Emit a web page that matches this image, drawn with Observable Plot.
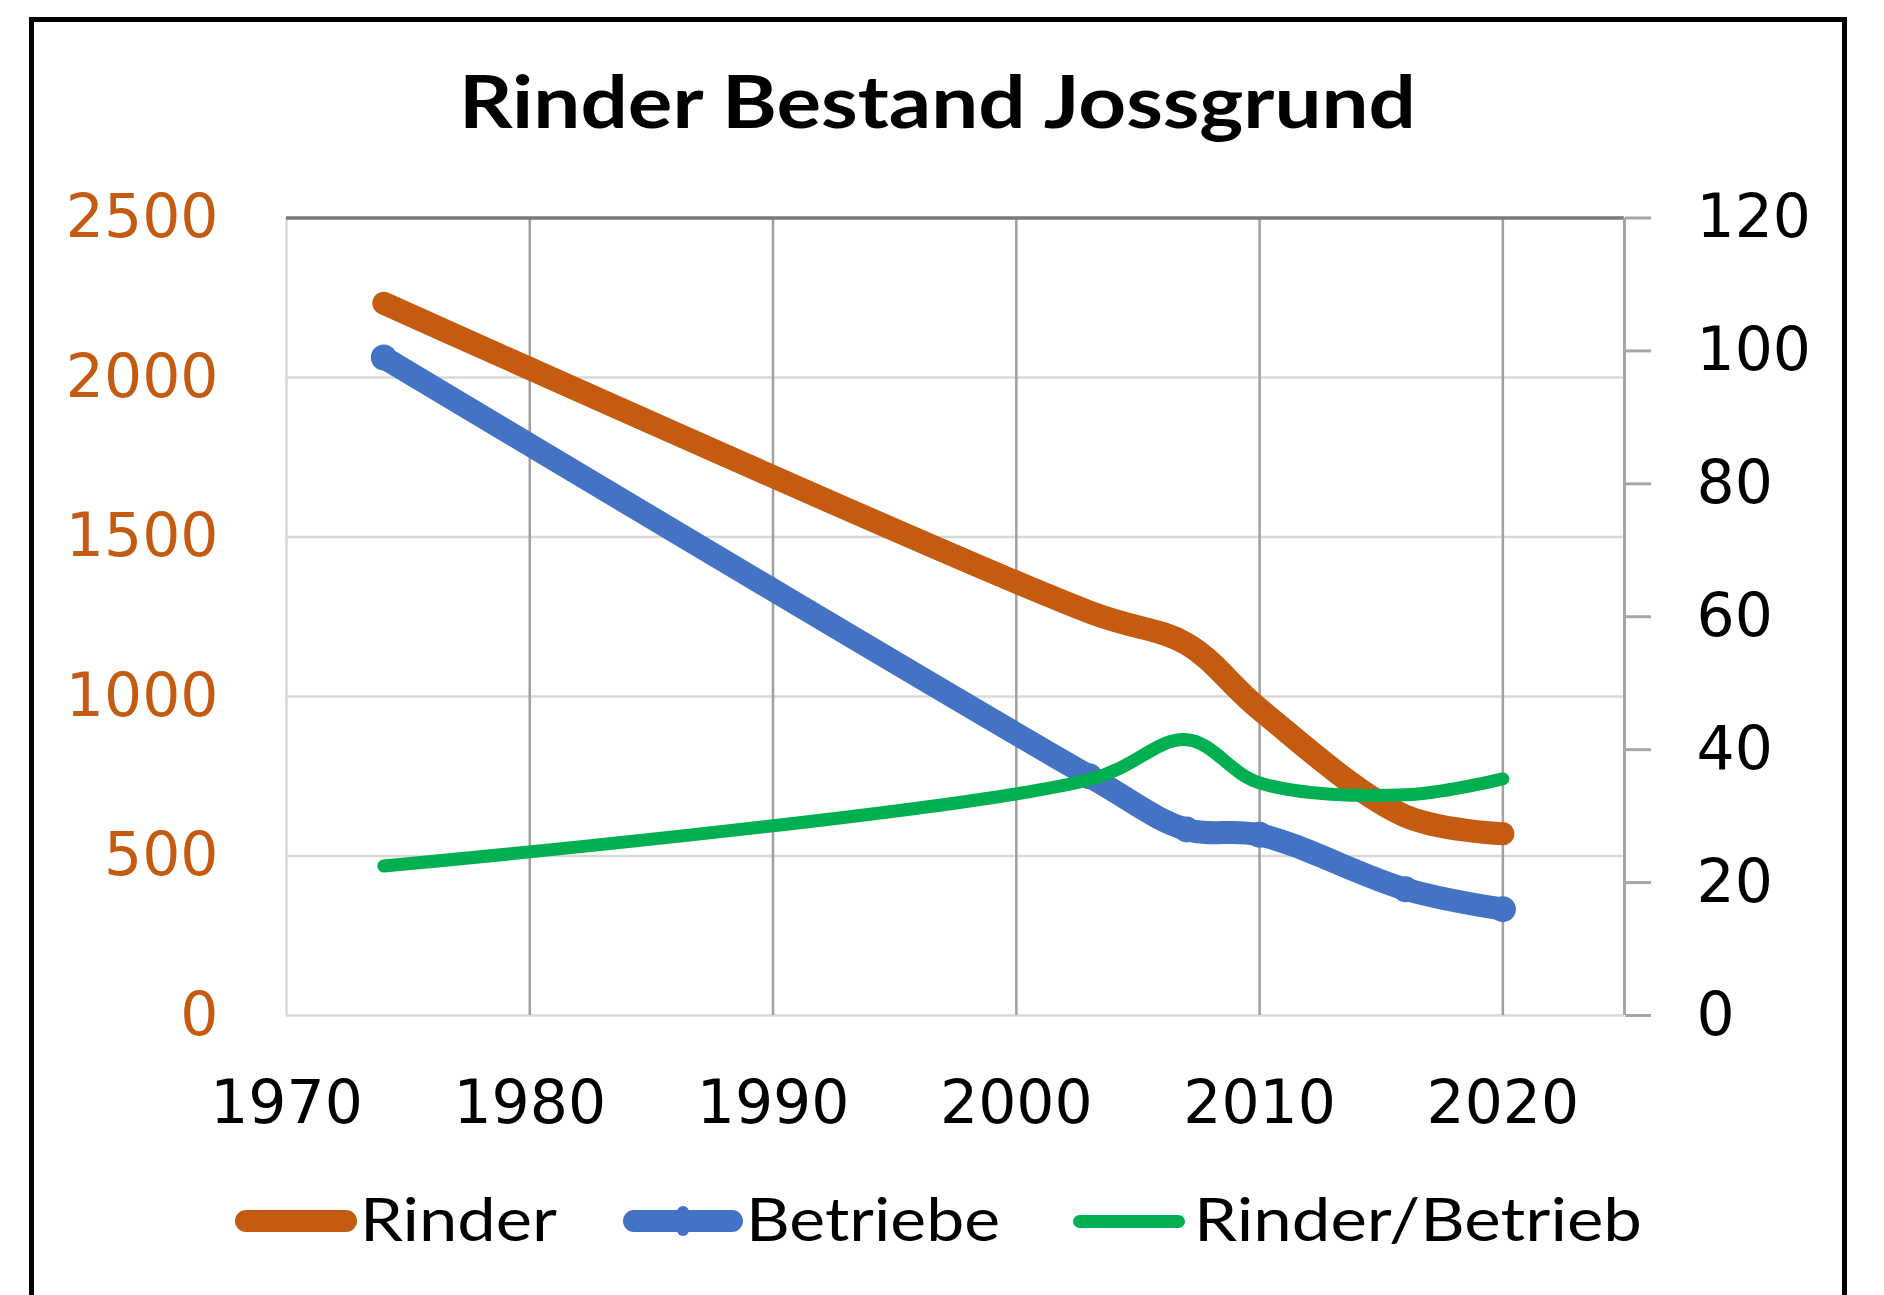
<!DOCTYPE html>
<html>
<head>
<meta charset="utf-8">
<script src="https://cdn.jsdelivr.net/npm/d3@7"></script>
<script src="https://cdn.jsdelivr.net/npm/@observablehq/plot@0.6"></script>
<style>
  html, body { margin: 0; padding: 0; background: #fff; width: 1884px; height: 1295px; overflow: hidden; }
  #frame { position: absolute; left: 29px; top: 17px; width: 1818px; height: 1400px;
           border: 5px solid #000; border-bottom: none; box-sizing: border-box; }
  #chart { position: absolute; left: 0; top: 160px; }
  .txt { position: absolute; white-space: nowrap; line-height: 1; transform-origin: 0 0; color: #000; }
  #title { font-family: Lato, "Open Sans", sans-serif; font-weight: 700; font-size: 73px; }
  .legtxt { font-family: Lato, "Open Sans", sans-serif; font-weight: 400; font-size: 60px; }
  .sw { position: absolute; border-radius: 20px; }
</style>
</head>
<body>
<div id="frame"></div>
<div id="title" class="txt">Rinder Bestand Jossgrund</div>
<div id="chart"></div>
<div id="legend"></div>
<script>
// ---- data ----
const years = [1974, 2003, 2007, 2010, 2016, 2020];
const rinder = [2233, 1265, 1165, 960, 625, 570];
const betriebe = [99, 36, 28, 27.2, 19, 16];
const rinderProBetrieb = [22.5, 35.5, 41.5, 35.0, 33.2, 35.6];
const leftTicks = [0, 500, 1000, 1500, 2000, 2500];
const rightTicks = [0, 20, 40, 60, 80, 100, 120];
const xTicks = [1970, 1980, 1990, 2000, 2010, 2020];
const seriesNames = ["Rinder", "Betriebe", "Rinder/Betrieb"];
const seriesColors = ["#C55A11", "#4472C4", "#00B050"];

// secondary axis (0–120) mapped onto primary (0–2500)
const k = 2500 / 120;
const tRinder = years.map((y, i) => ({year: y, value: rinder[i]}));
const tBetriebe = years.map((y, i) => ({year: y, value: betriebe[i]}));
const tRatio = years.map((y, i) => ({year: y, value: rinderProBetrieb[i]}));

const FS = 60;
const chart = Plot.plot({
  width: 1884,
  height: 995,
  marginTop: 57.5,
  marginBottom: 140,
  marginLeft: 286,
  marginRight: 260,
  x: {domain: [1970, 2025]},
  y: {domain: [0, 2500]},
  style: `font-family: 'DejaVu Sans'; font-size: ${FS}px; background: transparent; overflow: visible;`,
  marks: [
    Plot.ruleY(leftTicks.filter(v => v > 0 && v < 2500), {stroke: "#d9d9d9", strokeWidth: 2.5}),
    Plot.ruleY([0], {stroke: "#d9d9d9", strokeWidth: 2.5}),
    Plot.ruleX([1970], {stroke: "#d9d9d9", strokeWidth: 2.5}),
    Plot.ruleX(xTicks.filter(v => v > 1970), {stroke: "#a0a0a0", strokeWidth: 2.5}),
    Plot.ruleY([2500], {stroke: "#7a7a7a", strokeWidth: 3.5}),
    Plot.ruleX([2025], {stroke: "#a6a6a6", strokeWidth: 3}),
    Plot.axisY({anchor: "left", ticks: leftTicks, tickFormat: d => String(d), tickSize: 0, tickPadding: 68,
                fill: "#C55A11", fontSize: FS, label: null}),
    Plot.axisY({anchor: "right", ticks: rightTicks.map(v => v * k), tickFormat: d => String(Math.round(d / k)),
                tickSize: 26, tickPadding: 46, stroke: "#a6a6a6", strokeWidth: 3, fill: "#000",
                fontSize: FS, label: null}),
    Plot.axisX({anchor: "bottom", ticks: xTicks, tickFormat: d => String(d), tickSize: 0, tickPadding: 65,
                fill: "#000", fontSize: FS, label: null}),
    Plot.line(tRinder, {x: "year", y: "value", stroke: seriesColors[0], strokeWidth: 23,
                        curve: "catmull-rom", strokeLinecap: "round", strokeLinejoin: "round"}),
    Plot.line(tBetriebe, {x: "year", y: d => d.value * k, stroke: seriesColors[1], strokeWidth: 23,
                          curve: "catmull-rom", strokeLinecap: "round", strokeLinejoin: "round"}),
    Plot.dot(tBetriebe, {x: "year", y: d => d.value * k, r: 13, fill: seriesColors[1], stroke: "none"}),
    Plot.line(tRatio, {x: "year", y: d => d.value * k, stroke: seriesColors[2], strokeWidth: 13,
                       curve: "catmull-rom", strokeLinecap: "round", strokeLinejoin: "round"})
  ]
});
document.getElementById("chart").appendChild(chart);

// ---- title & legend (HTML) ----
function place(el, left, baseline, fontSize, targetWidth) {
  el.style.left = left + "px";
  el.style.top = (baseline - 0.887 * fontSize) + "px";
  const w = el.getBoundingClientRect().width;
  if (targetWidth) el.style.transform = `scaleX(${targetWidth / w})`;
}
const title = document.getElementById("title");
place(title, 459, 129, 73, 957);

const legend = document.getElementById("legend");
const legendLayout = [
  {sw: [235, 357], thick: 22, marker: false, text: 360, textW: 197},
  {sw: [623, 743], thick: 22, marker: true, text: 746, textW: 254},
  {sw: [1073, 1185], thick: 13, marker: false, text: 1194, textW: 448}
];
const legendMid = 1221;
seriesNames.forEach((name, i) => {
  const L = legendLayout[i];
  const sw = document.createElement("div");
  sw.className = "sw";
  sw.style.left = L.sw[0] + "px";
  sw.style.width = (L.sw[1] - L.sw[0]) + "px";
  sw.style.height = L.thick + "px";
  sw.style.top = (legendMid - L.thick / 2) + "px";
  sw.style.background = seriesColors[i];
  legend.appendChild(sw);
  if (L.marker) {
    const m = document.createElement("div");
    m.className = "sw";
    const c = (L.sw[0] + L.sw[1]) / 2;
    m.style.left = (c - 6) + "px";
    m.style.width = "12px";
    m.style.height = "30px";
    m.style.top = (legendMid - 15) + "px";
    m.style.borderRadius = "6px";
    m.style.background = seriesColors[i];
    legend.appendChild(m);
  }
  const t = document.createElement("div");
  t.className = "txt legtxt";
  t.textContent = name;
  legend.appendChild(t);
  place(t, L.text, 1241, 60, L.textW);
});
</script>
</body>
</html>
